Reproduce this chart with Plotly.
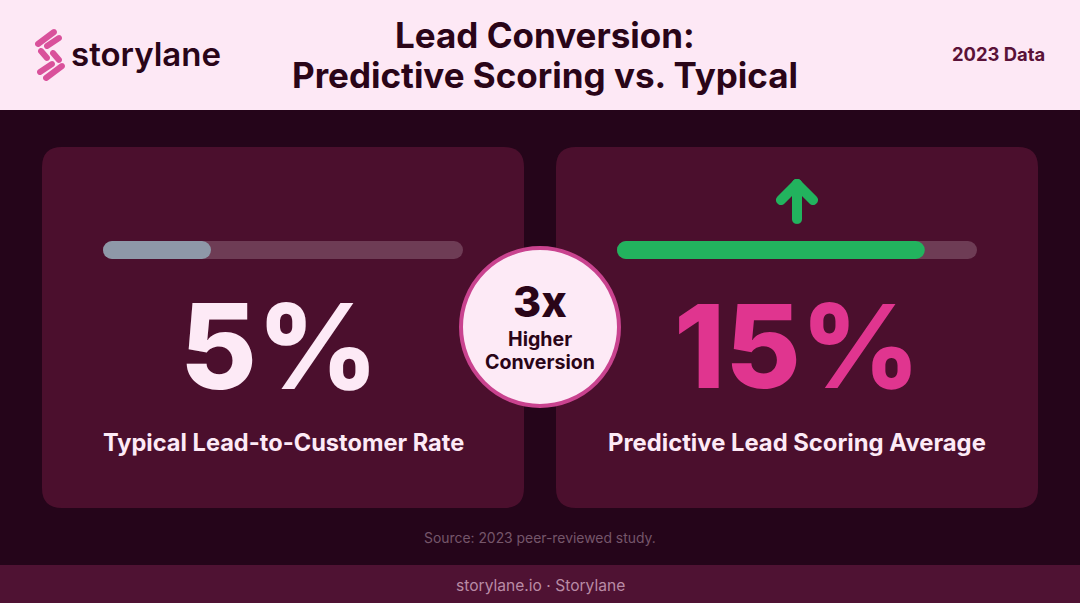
import plotly.graph_objects as go

W = 1080
H = 603

# values
bar_fill = [30, 85.5]
bar_total = [100, 100]
big_labels = ["5%", "15%"]
card_labels = ["Typical Lead-to-Customer Rate", "Predictive Lead Scoring Average"]
fill_colors = ["#8e98a8", "#22b35e"]
big_colors = ["#fdeaf6", "#e0358f"]

FONT = "Inter"


def fx(x):
    return x / W


def fy(y):
    return 1 - y / H


def paper_shape(path, color):
    return dict(type="path", xref="paper", yref="paper", path=path,
                fillcolor=color, line_width=0, layer="below")


def band(y0, y1, color):
    return dict(type="rect", xref="paper", yref="paper", x0=0, x1=1,
                y0=fy(y1), y1=fy(y0), fillcolor=color, line_width=0, layer="below")


def round_rect(x0, y0, x1, y1, r, color):
    p = [
        f"M {fx(x0 + r)} {fy(y0)}",
        f"L {fx(x1 - r)} {fy(y0)}",
        f"Q {fx(x1)} {fy(y0)} {fx(x1)} {fy(y0 + r)}",
        f"L {fx(x1)} {fy(y1 - r)}",
        f"Q {fx(x1)} {fy(y1)} {fx(x1 - r)} {fy(y1)}",
        f"L {fx(x0 + r)} {fy(y1)}",
        f"Q {fx(x0)} {fy(y1)} {fx(x0)} {fy(y1 - r)}",
        f"L {fx(x0)} {fy(y0 + r)}",
        f"Q {fx(x0)} {fy(y0)} {fx(x0 + r)} {fy(y0)}",
        "Z",
    ]
    return paper_shape(" ".join(p), color)


def stroke(x0, y0, x1, y1, w, color):
    """Slanted bar with round ends, for the logo and the arrow."""
    length = ((x1 - x0) ** 2 + (y1 - y0) ** 2) ** 0.5
    ux, uy = (x1 - x0) / length, (y1 - y0) / length
    nx, ny = -uy * w / 2, ux * w / 2
    ex, ey = ux * w * 0.66, uy * w * 0.66
    p = [
        f"M {fx(x0 + nx)} {fy(y0 + ny)}",
        f"L {fx(x1 + nx)} {fy(y1 + ny)}",
        f"C {fx(x1 + nx + ex)} {fy(y1 + ny + ey)} {fx(x1 - nx + ex)} {fy(y1 - ny + ey)} {fx(x1 - nx)} {fy(y1 - ny)}",
        f"L {fx(x0 - nx)} {fy(y0 - ny)}",
        f"C {fx(x0 - nx - ex)} {fy(y0 - ny - ey)} {fx(x0 + nx - ex)} {fy(y0 + ny - ey)} {fx(x0 + nx)} {fy(y0 + ny)}",
        "Z",
    ]
    return paper_shape(" ".join(p), color)


def label(text, x, y, size, color, weight=700, anchor="center"):
    return dict(text=text, x=fx(x), y=fy(y), xref="paper", yref="paper",
                xanchor=anchor, yanchor="middle", showarrow=False,
                font=dict(family=FONT, size=size, color=color, weight=weight))


fig = go.Figure()

# setting base makes plotly round both ends of the bar
for i in range(2):
    suffix = "" if i == 0 else "2"
    axes = dict(xaxis="x" + suffix, yaxis="y" + suffix)
    fig.add_trace(go.Bar(x=[bar_total[i]], base=0, y=[0], orientation="h", width=1,
                         marker=dict(color="#6e3c55", line_width=0), **axes))
    fig.add_trace(go.Bar(x=[bar_fill[i]], base=0, y=[0], orientation="h", width=1,
                         marker=dict(color=fill_colors[i], line_width=0), **axes))

shapes = [
    band(0, 110, "#fde8f5"),
    band(565, 603, "#4f1233"),
    round_rect(42, 147, 524, 508, 20, "#4b0f2d"),
    round_rect(556, 147, 1038, 508, 20, "#4b0f2d"),
    # arrow
    stroke(797, 184, 797, 219, 10, "#22b35e"),
    stroke(797, 184, 781, 200, 10, "#22b35e"),
    stroke(797, 184, 813, 200, 10, "#22b35e"),
    # centre badge
    dict(type="circle", xref="paper", yref="paper", x0=fx(461), x1=fx(619),
         y0=fy(406), y1=fy(248), fillcolor="#fdeaf6",
         line=dict(color="#c9438f", width=4), layer="above"),
]

# logo
logo_strokes = [
    (38, 44, 54, 32), (47, 46, 59, 38),
    (41, 51, 47, 58), (53, 53, 59, 60),
    (40, 72, 52, 64), (46, 78, 62, 66),
]
for s in logo_strokes:
    shapes.append(stroke(*s, 6, "#d9519b"))

annotations = [
    label("storylane", 69, 54, 33, "#2a0518", 600, "left"),
    label("Lead Conversion:", 545, 35, 35, "#2a0518", 700),
    label("Predictive Scoring vs. Typical", 545, 75, 35, "#2a0518", 700),
    label("2023 Data", 1047, 54, 18.4, "#5a1238", 700, "right"),
    label(big_labels[0], 279, 346, 118, big_colors[0], 800),
    label(big_labels[1], 797, 346, 116, big_colors[1], 800),
    label(card_labels[0], 283, 442, 23.6, "#fdeaf6", 700),
    label(card_labels[1], 797, 442, 23.8, "#fdeaf6", 700),
    label("3x", 540, 301, 43, "#2a0518", 800),
    label("Higher", 540, 338.5, 19.6, "#2a0518", 700),
    label("Conversion", 540, 361.5, 19.6, "#2a0518", 700),
    label("Source: 2023 peer-reviewed study.", 540, 538, 13.9, "#75566a", 400),
    label("storylane.io · Storylane", 540, 585, 15.6, "#b98ba5", 400),
]

hidden = dict(visible=False, fixedrange=True)
fig.update_layout(
    width=W,
    height=H,
    margin=dict(l=0, r=0, t=0, b=0),
    paper_bgcolor="#25051a",
    plot_bgcolor="rgba(0,0,0,0)",
    showlegend=False,
    barmode="overlay",
    barcornerradius=9,
    shapes=shapes,
    annotations=annotations,
    xaxis=dict(domain=[fx(103), fx(463)], range=[0, 100], anchor="y", **hidden),
    yaxis=dict(domain=[fy(259), fy(241)], range=[-0.5, 0.5], anchor="x", **hidden),
    xaxis2=dict(domain=[fx(617), fx(977)], range=[0, 100], anchor="y2", **hidden),
    yaxis2=dict(domain=[fy(259), fy(241)], range=[-0.5, 0.5], anchor="x2", **hidden),
)

fig.write_html("out.html", config=dict(displayModeBar=False),
               post_script="document.body.style.margin='0';")
